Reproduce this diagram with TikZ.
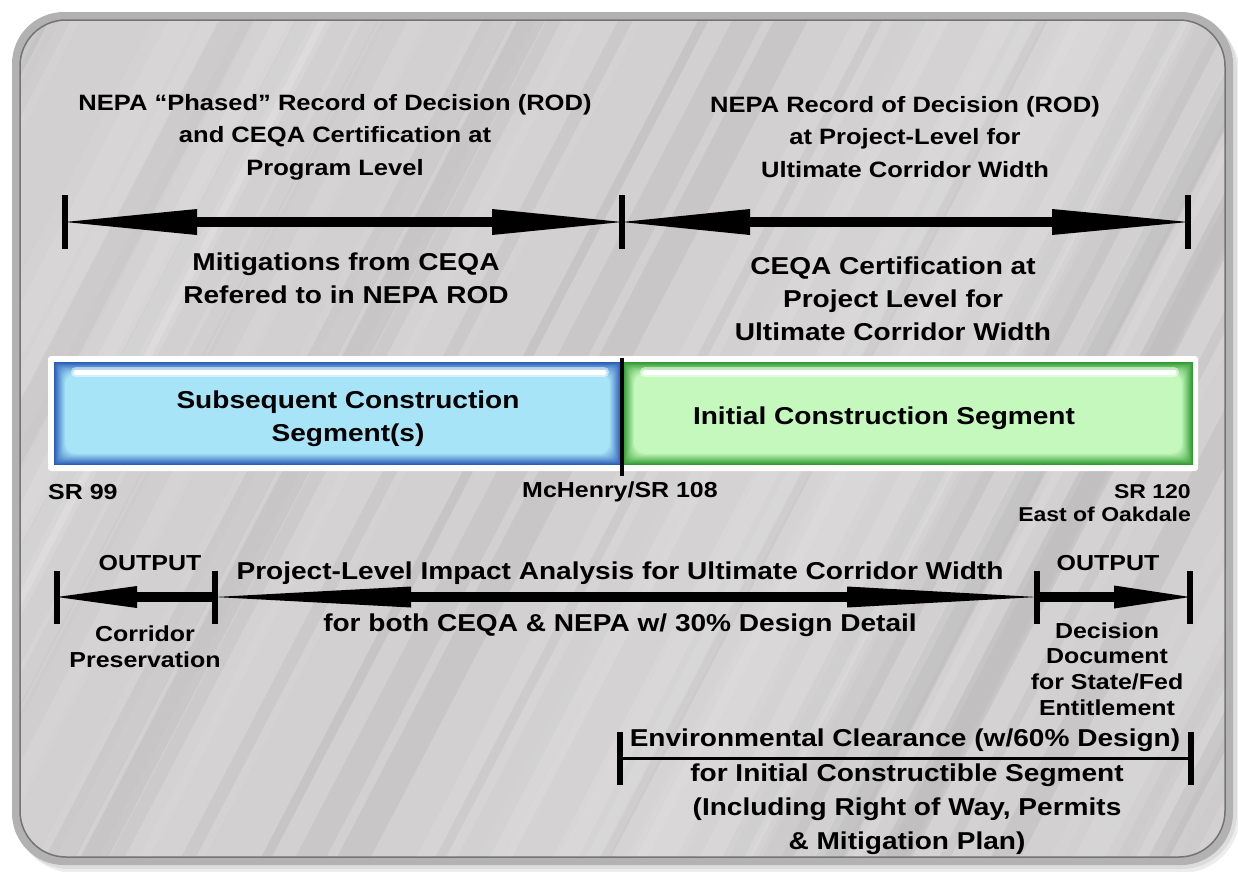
\documentclass[tikz,border=0pt]{standalone}
\usepackage{fontspec}
\setmainfont{Liberation Sans}[FakeStretch=1.15]
\usetikzlibrary{arrows.meta}
\definecolor{panelbase}{HTML}{D2D0D0}
\definecolor{rim}{HTML}{B2B2B2}
\definecolor{rimdark}{HTML}{747474}
\definecolor{blueedge}{HTML}{2A5DB8}
\definecolor{bluelight}{HTML}{A8E4F8}
\definecolor{greenedge}{HTML}{2F9A30}
\definecolor{greenlight}{HTML}{C4F8BC}
\begin{document}
\begin{tikzpicture}[x=1pt,y=-1pt,
  txt/.style={font=\bfseries\fontsize{24.4}{33}\selectfont, align=center, inner sep=0pt},
  head/.style={font=\bfseries\fontsize{22.2}{32.5}\selectfont, align=center, inner sep=0pt},
  sml/.style={font=\bfseries\fontsize{21.7}{25.7}\selectfont, align=center, inner sep=0pt},
  tickmark/.style={fill=black, inner sep=0pt, minimum width=6pt, minimum height=#1},
  bigarrow/.style={line width=10pt},
]
\useasboundingbox (0,0) rectangle (1238,871);
\fill[white] (0,0) rectangle (1238,871);
% soft shadow
\fill[black, opacity=0.07, rounded corners=58] (16,16) rectangle (1240,873);
\fill[black, opacity=0.07, rounded corners=55] (14,14) rectangle (1237,869);
% panel rim
\fill[rim, rounded corners=52] (12,12) rectangle (1233,865);
\fill[panelbase, rounded corners=46] (20,20) rectangle (1225,857);
\begin{scope}
  \clip[rounded corners=46] (20,20) rectangle (1225,857);
  \pgfmathsetseed{11}
  \foreach \i in {1,...,45}{
    \pgfmathsetmacro\sx{rnd*1800-500}
    \pgfmathsetmacro\sw{rnd*50+10}
    \pgfmathsetmacro\so{rnd*0.09+0.03}
    \draw[white, opacity=\so, line width=\sw pt] (\sx,880) -- ++(470,-900);
  }
  \foreach \i in {1,...,30}{
    \pgfmathsetmacro\sx{rnd*1800-500}
    \pgfmathsetmacro\sw{rnd*30+6}
    \pgfmathsetmacro\so{rnd*0.04+0.015}
    \draw[black, opacity=\so, line width=\sw pt] (\sx,880) -- ++(470,-900);
  }
\end{scope}
\draw[rimdark, line width=1.5pt, rounded corners=46] (20,20) rectangle (1225,857);

% ---------- segment bar ----------
\fill[white, rounded corners=3] (48,356) rectangle (1198,471);
\foreach \k in {0,...,12}{
  \pgfmathsetmacro\pc{min(100,\k*9)}
  \fill[bluelight!\pc!blueedge, rounded corners=\k] (54+\k,362+\k) rectangle (621-\k,465-\k);
  \fill[greenlight!\pc!greenedge, rounded corners=\k] (623+\k,362+\k) rectangle (1193-\k,465-\k);
}
\draw[white, opacity=0.5, line width=10pt, line cap=round] (76,372) -- (604,372);
\draw[white, opacity=0.5, line width=10pt, line cap=round] (645,372) -- (1174,372);
\draw[white, line width=5pt, line cap=round] (76,372) -- (604,372);
\draw[white, line width=5pt, line cap=round] (645,372) -- (1174,372);
\draw[black, line width=4pt] (622,358) -- (622,476);

\node[txt] (subseg) at (348,419) {Subsequent Construction\\Segment(s)};
\node[txt] (initseg) at (884,418) {Initial Construction Segment};

% ---------- top arrows ----------
\node[tickmark=54pt] (tA) at (65,222) {};
\node[tickmark=54pt] (tB) at (622,222) {};
\node[tickmark=54pt] (tC) at (1188,222) {};
\draw[bigarrow, {Triangle[length=132pt,width=26pt,line width=0pt]}-{Triangle[length=130pt,width=26pt,line width=0pt]}] (tA.center) -- (tB.center);
\draw[bigarrow, {Triangle[length=128pt,width=26pt,line width=0pt]}-{Triangle[length=136pt,width=26pt,line width=0pt]}] (tB.center) -- (tC.center);

\node[head] (h1) at (335,137) {NEPA “Phased” Record of Decision (ROD)\\and CEQA Certification at\\Program Level};
\node[head] (h2) at (905,137) {NEPA Record of Decision (ROD)\\at Project-Level for\\Ultimate Corridor Width};
\node[txt] (m1) at (346,278) {Mitigations from CEQA\\Refered to in NEPA ROD};
\node[txt] (m2) at (893,299) {CEQA Certification at\\Project Level for\\Ultimate Corridor Width};

% ---------- location labels ----------
\node[sml, anchor=west] (sr99) at (48,492) {SR 99};
\node[sml] (sr108) at (620,492) {McHenry/SR 108};
\node[sml, anchor=east, align=right, font=\bfseries\fontsize{20}{22.5}\selectfont] (sr120) at (1191,503) {SR 120\\East of Oakdale};

% ---------- bottom arrows ----------
\node[tickmark=53pt] (bA) at (57,597) {};
\node[tickmark=53pt] (bB) at (215,597) {};
\node[tickmark=53pt] (bC) at (1037,597) {};
\node[tickmark=53pt] (bD) at (1190,597) {};
\draw[bigarrow, -{Triangle[length=80pt,width=22pt,line width=0pt]}] (bB.center) -- (bA.center);
\draw[bigarrow, {Triangle[length=196pt,width=21pt,line width=0pt]}-{Triangle[length=190pt,width=21pt,line width=0pt]}] (bB.center) -- (bC.center);
\draw[bigarrow, -{Triangle[length=76pt,width=23pt,line width=0pt]}] (bC.center) -- (bD.center);

\node[sml] (out1) at (150,563) {OUTPUT};
\node[sml] (corr) at (145,647) {Corridor\\Preservation};
\node[txt] (pl1) at (620,573) {Project-Level Impact Analysis for Ultimate Corridor Width};
\node[txt] (pl2) at (620,625) {for both CEQA \& NEPA w/ 30\% Design Detail};
\node[sml] (out2) at (1108,563) {OUTPUT};
\node[sml] (dec) at (1107,669) {Decision\\Document\\for State/Fed\\Entitlement};

% ---------- bottom bracket ----------
\node[tickmark=53pt] (cA) at (620,758) {};
\node[tickmark=53pt] (cD) at (1191,758) {};
\draw[line width=3pt] (cA.center) -- (cD.center);
\node[txt] (env1) at (905,740) {Environmental Clearance (w/60\% Design)};
\node[txt, font=\bfseries\fontsize{24.4}{34}\selectfont] (env2) at (907,809) {for Initial Constructible Segment\\(Including Right of Way, Permits\\\& Mitigation Plan)};
\end{tikzpicture}
\end{document}
